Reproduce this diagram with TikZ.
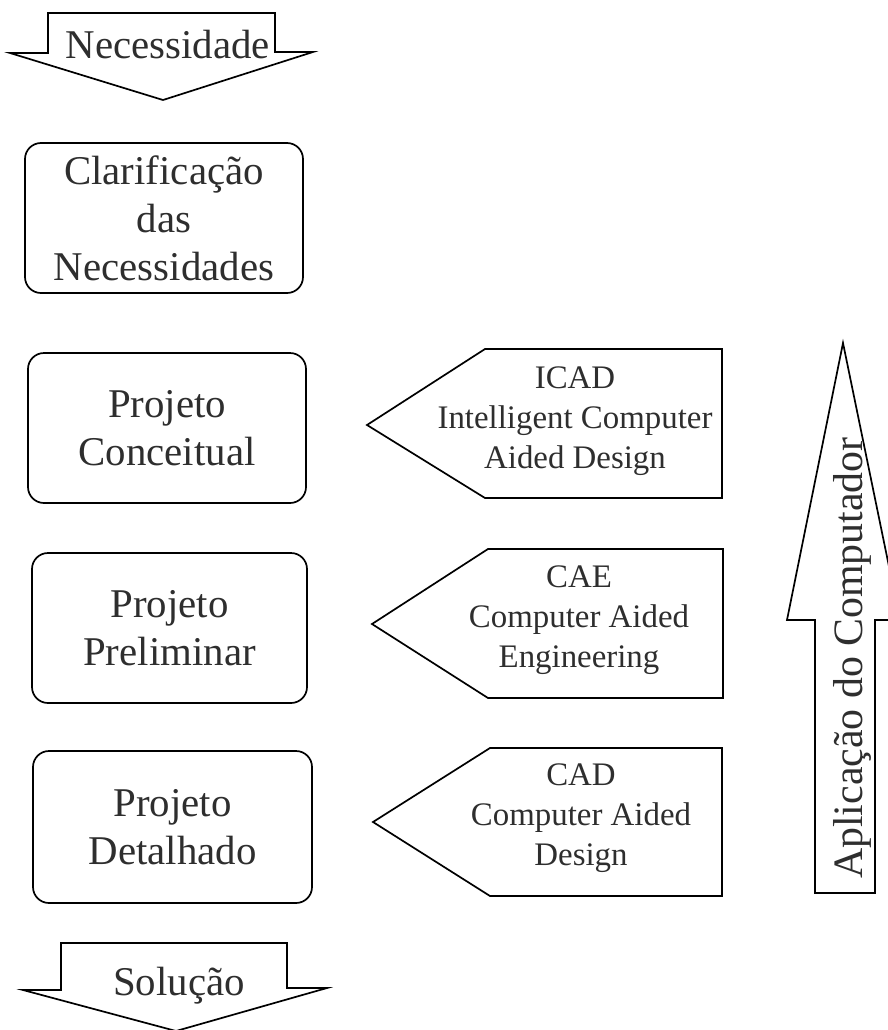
\documentclass[tikz,border=0pt]{standalone}
\usepackage{fontspec}
\setmainfont{Liberation Serif}
\begin{document}
\begin{tikzpicture}[x=1bp,y=-1bp,line width=1.7bp,line join=miter,
  bigtext/.style={text=black!82,font=\fontsize{41}{48}\selectfont,align=center},
  smalltext/.style={text=black!82,font=\fontsize{33}{40}\selectfont,align=center},
  stagebox/.style={draw,rounded corners=16bp,bigtext,inner sep=0pt},
  outline/.style={draw,line join=miter}]
\useasboundingbox (0,0) rectangle (888,1030);

% input arrow
\draw[outline] (48,13) -- (275,13) -- (275,52) -- (313,52) -- (163,100)
  -- (10,53) -- (48,53) -- cycle;
\node[bigtext,anchor=base] (nec) at (168,58) {Necessidade};

% design stages
\node[stagebox,minimum width=278bp,minimum height=150bp] (clar) at (164,218)
  {Clarificação\\das\\Necessidades};
\node[stagebox,minimum width=278bp,minimum height=150bp] (conc) at (167,428)
  {Projeto\\Conceitual};
\node[stagebox,minimum width=275bp,minimum height=150bp] (prel) at (169.5,628)
  {Projeto\\Preliminar};
\node[stagebox,minimum width=279bp,minimum height=152bp] (det) at (172.5,827)
  {Projeto\\Detalhado};

% output arrow
\draw[outline] (61,943) -- (287,943) -- (287,988) -- (327,988) -- (176,1031)
  -- (23,990) -- (61,990) -- cycle;
\node[bigtext,anchor=base] (sol) at (179,995) {Solução};

% computer tools pointing to the stages
\draw[outline] (485,349) -- (722,349) -- (722,498) -- (485,498) -- (367,425) -- cycle;
\node[smalltext] (icad) at (575,421) {ICAD\\Intelligent Computer\\Aided Design};

\draw[outline] (488,549) -- (723,549) -- (723,698) -- (488,698) -- (372,624) -- cycle;
\node[smalltext] (cae) at (579,620) {CAE\\Computer Aided\\Engineering};

\draw[outline] (490,748) -- (722,748) -- (722,896) -- (490,896) -- (373,822) -- cycle;
\node[smalltext] (cad) at (581,818) {CAD\\Computer Aided\\Design};

% vertical arrow
\draw[outline] (815,893) -- (875,893) -- (875,620) -- (900,620) -- (843,343)
  -- (787,620) -- (815,620) -- cycle;
\node[text=black!82,font=\fontsize{42}{48}\selectfont,rotate=90,anchor=base west]
  (app) at (862,883) {Aplicação do Computador};
\end{tikzpicture}
\end{document}
